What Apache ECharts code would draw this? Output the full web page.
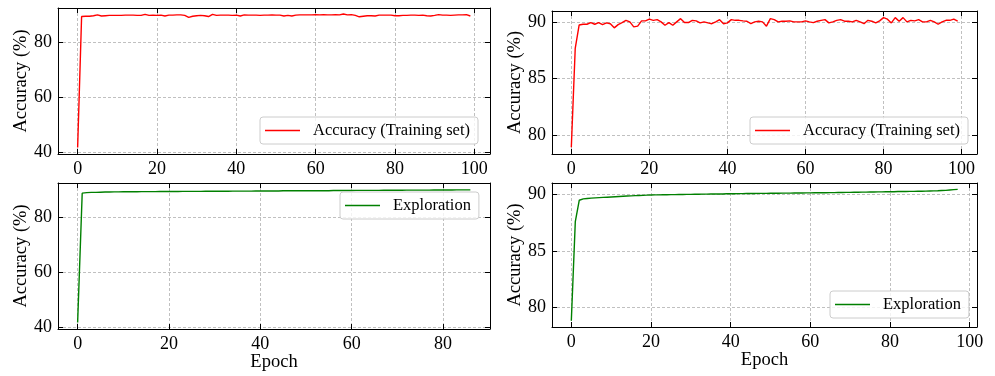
<!DOCTYPE html>
<html>
<head>
<meta charset="utf-8">
<script src="https://cdn.jsdelivr.net/npm/echarts@6/dist/echarts.min.js"></script>
<style>
html,body{margin:0;padding:0;background:#fff;}
#container1{width:995px;height:376px;}
</style>
</head>
<body>
<div id="container1"></div>
<script>
var trainA=[41.6,89.3,89.4,89.4,89.6,89.9,89.5,89.6,89.7,89.7,
 89.7,89.7,89.8,89.8,89.8,89.7,89.7,90.1,89.7,89.8,
 89.7,89.8,89.5,89.8,89.8,89.9,89.9,89.7,89.0,89.4,
 89.6,89.7,89.6,89.3,90.1,89.7,89.8,89.8,89.8,89.7,
 89.8,89.5,89.9,89.8,89.8,89.8,89.7,89.8,89.8,89.9,
 89.8,89.8,89.5,89.7,89.5,89.8,89.9,89.9,89.9,89.9,
 90.0,89.9,90.0,89.9,89.9,90.0,89.9,90.2,89.9,90.0,
 89.7,89.2,89.4,89.6,89.6,89.5,89.8,89.8,89.8,89.8,
 89.6,89.6,89.7,89.7,89.8,89.8,89.7,89.8,89.6,89.5,
 89.7,90.0,89.8,89.8,89.7,89.8,89.9,89.9,90.0,89.5];
var trainB=[78.9,87.7,89.78,89.85,89.85,90.0,89.85,90.0,89.82,89.97,
 89.9,89.53,89.82,90.0,90.2,90.06,89.62,89.68,90.15,90.15,
 90.3,90.2,90.26,90.06,89.76,90.0,89.76,90.06,90.35,90.0,
 90.0,90.2,90.15,89.97,90.06,89.97,89.9,90.06,90.26,89.9,
 89.97,90.26,90.2,90.2,90.15,90.12,89.9,90.06,90.12,90.06,
 89.68,90.35,90.26,90.06,90.12,90.12,90.15,90.06,90.06,90.06,
 90.15,90.06,90.0,90.12,90.2,90.26,89.97,90.06,90.2,90.26,
 90.12,90.12,90.06,90.2,90.06,89.9,90.2,90.12,89.97,90.15,
 90.44,90.3,89.97,90.44,90.12,90.44,90.06,90.2,90.15,90.26,
 90.06,90.06,90.2,90.06,89.85,90.06,90.2,90.2,90.3,90.12];
var exploreA=[41.6,88.7,88.9,89.0,89.0,89.05,89.1,89.1,89.15,89.15,
 89.2,89.2,89.2,89.2,89.25,89.25,89.25,89.25,89.3,89.3,
 89.3,89.3,89.3,89.35,89.35,89.35,89.35,89.35,89.4,89.4,
 89.4,89.4,89.4,89.4,89.45,89.45,89.45,89.45,89.45,89.5,
 89.5,89.5,89.5,89.5,89.5,89.55,89.55,89.55,89.55,89.55,
 89.6,89.6,89.6,89.6,89.6,89.6,89.65,89.65,89.65,89.65,
 89.65,89.7,89.7,89.7,89.7,89.7,89.7,89.75,89.75,89.75,
 89.75,89.75,89.8,89.8,89.8,89.8,89.8,89.8,89.85,89.85,
 89.85,89.85,89.85,89.9,89.9,89.9,89.9];
var exploreB=[78.8,87.6,89.5,89.62,89.66,89.69,89.71,89.73,89.75,89.77,
 89.79,89.81,89.83,89.85,89.87,89.89,89.91,89.92,89.93,89.95,
 89.97,89.98,89.98,89.99,89.99,90.0,90.0,90.01,90.01,90.02,
 90.02,90.03,90.03,90.04,90.04,90.05,90.05,90.06,90.06,90.07,
 90.08,90.08,90.09,90.09,90.1,90.1,90.1,90.11,90.11,90.11,
 90.12,90.12,90.12,90.13,90.13,90.13,90.14,90.14,90.14,90.15,
 90.15,90.16,90.16,90.17,90.17,90.18,90.18,90.19,90.19,90.2,
 90.2,90.21,90.21,90.22,90.22,90.23,90.23,90.24,90.24,90.25,
 90.26,90.26,90.27,90.27,90.28,90.29,90.29,90.3,90.3,90.31,
 90.32,90.33,90.34,90.36,90.38,90.41,90.44,90.46];
var trainName='Accuracy (Training set)';
var exploreName='Exploration';

var dom1=document.getElementById("container1");
var myChart1=echarts.init(dom1);
var font='Liberation Serif';

// plot areas, matplotlib-like limits (5% margins)
var grids=[
    {left:58,top:8,width:432,height:146,xmin:-4.95,xmax:103.95,ymin:39.25,ymax:92.4},
    {left:552,top:11,width:425,height:143,xmin:-4.95,xmax:103.95,ymin:78.3,ymax:91.03},
    {left:58,top:183,width:432,height:146,xmin:-4.3,xmax:90.3,ymin:39.2,ymax:92.4},
    {left:552,top:183,width:425,height:144,xmin:-4.85,xmax:101.85,ymin:78.25,ymax:91.03}
];

function toPairs(arr){
    var out=[];
    for(var i=0;i<arr.length;i++){
        out.push([i,arr[i]]);
    }
    return out;
}

function makeAxis(g,i,pos,min,max,split,main,name){
    return {
        type:'value',
        gridIndex:i,
        position:pos,
        min:min,
        max:max,
        splitNumber:split,
        name:name||'',
        nameLocation:'middle',
        nameMoveOverlap:false,
        nameGap:(pos==='left')?27:24,
        nameTextStyle:{fontFamily:font,fontSize:18.5,color:'#000'},
        axisLine:{show:true,onZero:false,lineStyle:{color:'#000',width:1}},
        axisTick:{show:true,inside:true,length:5,lineStyle:{color:'#000',width:1}},
        axisLabel:{show:main,showMinLabel:false,showMaxLabel:false,margin:6,
            fontFamily:font,fontSize:18,color:'#000'},
        splitLine:{show:main,lineStyle:{color:'#b0b0b0',width:0.8,type:[3,2]}}
    };
}

var xAxes=[],yAxes=[];
for(var i=0;i<4;i++){
    var g=grids[i];
    xAxes.push(makeAxis(g,i,'bottom',g.xmin,g.xmax,5,true,i>=2?'Epoch':''));
    yAxes.push(makeAxis(g,i,'left',g.ymin,g.ymax,3,true,'Accuracy (%)'));
}
for(var i=0;i<4;i++){
    var g=grids[i];
    xAxes.push(makeAxis(g,i,'top',g.xmin,g.xmax,5,false,''));
    yAxes.push(makeAxis(g,i,'right',g.ymin,g.ymax,3,false,''));
}

function makeLegend(name,left,top){
    return {
        data:[name],
        left:left,
        top:top,
        orient:'vertical',
        padding:[5,8,5,5],
        icon:'rect',
        itemWidth:35,
        itemHeight:1.4,
        backgroundColor:'rgba(255,255,255,0.8)',
        borderColor:'#cccccc',
        borderWidth:1,
        borderRadius:3,
        selectedMode:false,
        textStyle:{fontFamily:font,fontSize:16.5,color:'#000',padding:[0,0,0,8]}
    };
}

function makeSeries(name,data,idx,color){
    return {
        type:'line',
        name:name,
        xAxisIndex:idx,
        yAxisIndex:idx,
        data:toPairs(data),
        symbol:'none',
        animation:false,
        lineStyle:{color:color,width:1.4},
        itemStyle:{color:color}
    };
}

var option1={
    animation:false,
    grid:grids.map(function(g){return {left:g.left,top:g.top,width:g.width,height:g.height};}),
    xAxis:xAxes,
    yAxis:yAxes,
    legend:[
        makeLegend(trainName,260,117),
        makeLegend(trainName,750,117),
        makeLegend(exploreName,340,192),
        makeLegend(exploreName,830,291)
    ],
    series:[
        makeSeries(trainName,trainA,0,'#ff0000'),
        makeSeries(trainName,trainB,1,'#ff0000'),
        makeSeries(exploreName,exploreA,2,'#008000'),
        makeSeries(exploreName,exploreB,3,'#008000')
    ]
};
myChart1.setOption(option1);
</script>
</body>
</html>
